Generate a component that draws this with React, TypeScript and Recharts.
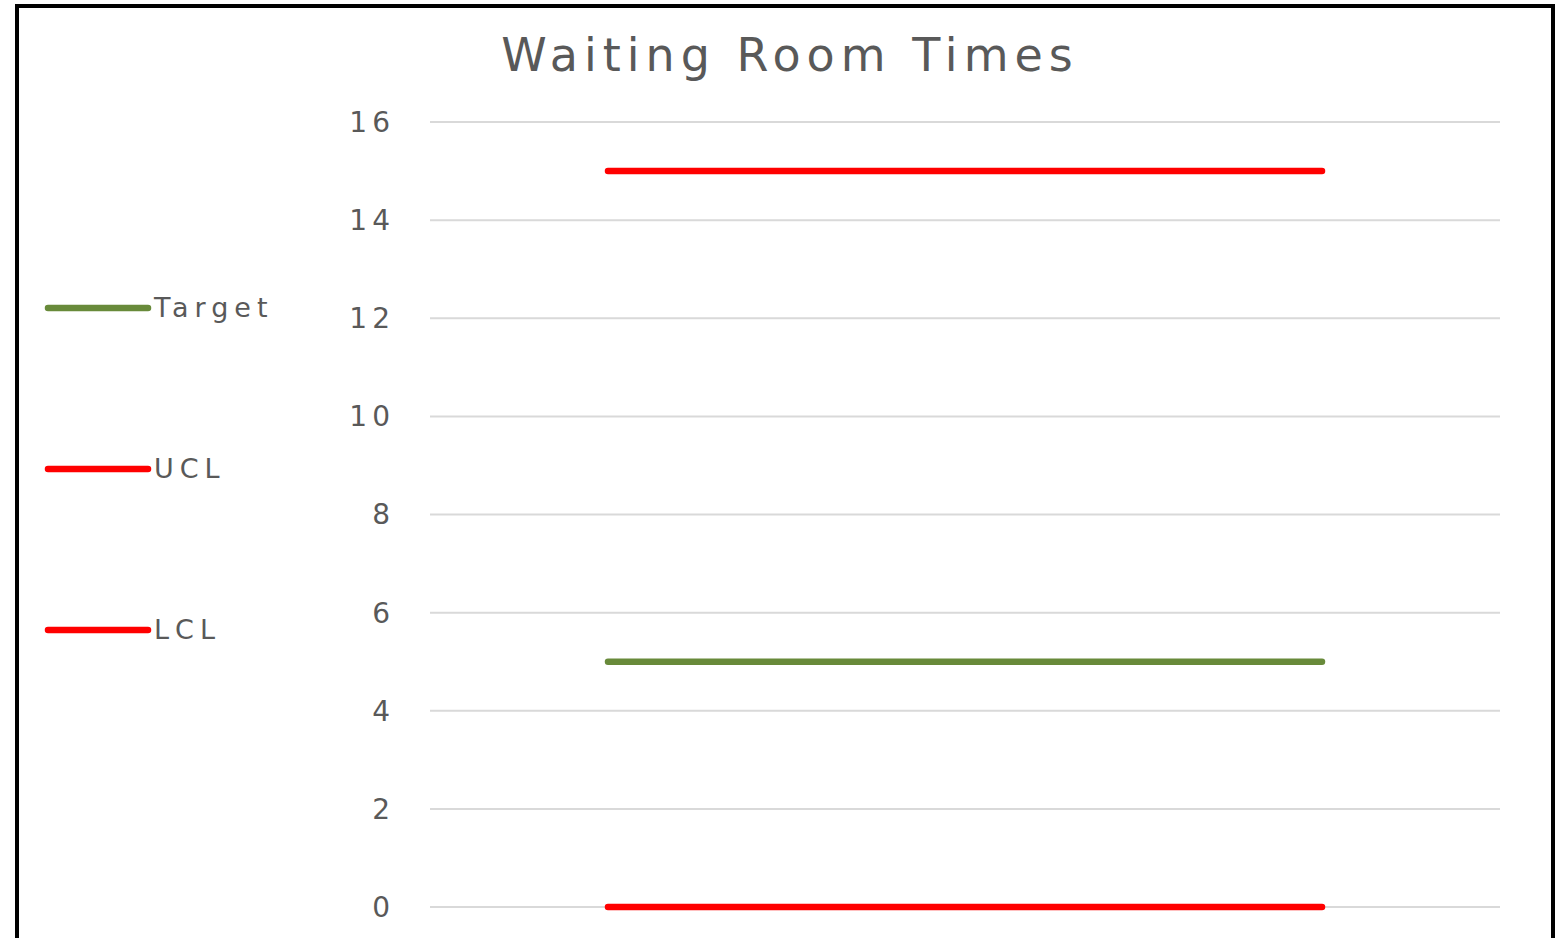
import React from "react";
import { LineChart, Line, XAxis, YAxis, CartesianGrid } from "recharts";

const periods = ["1", "2", "3"];
const target = [5, 5, 5];
const ucl = [15, 15, 15];
const lcl = [0, 0, 0];
const yTicks = [0, 2, 4, 6, 8, 10, 12, 14, 16];

const data = periods.map((p, i) => ({ period: p, Target: target[i], UCL: ucl[i], LCL: lcl[i] }));

const GREEN = "#688a3a";
const RED = "#ff0000";
const TEXT = "#595959";
const FONT = "'DejaVu Sans', sans-serif";

const legendItems = [
  { name: "Target", color: GREEN },
  { name: "UCL", color: RED },
  { name: "LCL", color: RED },
];

function SideLegend() {
  return (
    <div style={{ position: "absolute", left: 42, top: 227, fontFamily: FONT }}>
      {legendItems.map((it) => (
        <div key={it.name} style={{ display: "flex", alignItems: "center", height: 161 }}>
          <svg width={112} height={10}>
            <line x1={6} y1={5} x2={106} y2={5} stroke={it.color} strokeWidth={6.5} strokeLinecap="round" />
          </svg>
          <span style={{ fontSize: 27, color: TEXT, letterSpacing: 6 }}>{it.name}</span>
        </div>
      ))}
    </div>
  );
}

export default function App() {
  return (
    <div style={{ position: "absolute", left: 0, top: 0, width: 1559, height: 938, overflow: "hidden", background: "#fff" }}>
      <div
        style={{
          position: "absolute",
          left: 15,
          top: 4,
          width: 1540,
          height: 1000,
          boxSizing: "border-box",
          border: "4px solid #000",
        }}
      />
      <div
        style={{
          position: "absolute",
          left: 0,
          top: 28,
          width: 1580,
          textAlign: "center",
          fontFamily: FONT,
          fontSize: 46,
          letterSpacing: 6,
          color: TEXT,
        }}
      >
        Waiting Room Times
      </div>
      <SideLegend />
      <div style={{ position: "absolute", left: 0, top: 0 }}>
        <LineChart width={1559} height={938} data={data} margin={{ top: 122, right: 59, bottom: 31, left: 340 }}>
          <CartesianGrid vertical={false} stroke="#d9d9d9" strokeWidth={2} />
          <XAxis dataKey="period" hide padding={{ left: 178, right: 178 }} />
          <YAxis
            width={90}
            domain={[0, 16]}
            ticks={yTicks}
            axisLine={false}
            tickLine={false}
            tickSize={6}
            tickMargin={29}
            tick={{ fill: TEXT, fontSize: 28, fontFamily: FONT, letterSpacing: 5 }}
          />
          <Line dataKey="Target" stroke={GREEN} strokeWidth={6.5} strokeLinecap="round" dot={false} isAnimationActive={false} />
          <Line dataKey="UCL" stroke={RED} strokeWidth={6.5} strokeLinecap="round" dot={false} isAnimationActive={false} />
          <Line dataKey="LCL" stroke={RED} strokeWidth={6.5} strokeLinecap="round" dot={false} isAnimationActive={false} />
        </LineChart>
      </div>
    </div>
  );
}
